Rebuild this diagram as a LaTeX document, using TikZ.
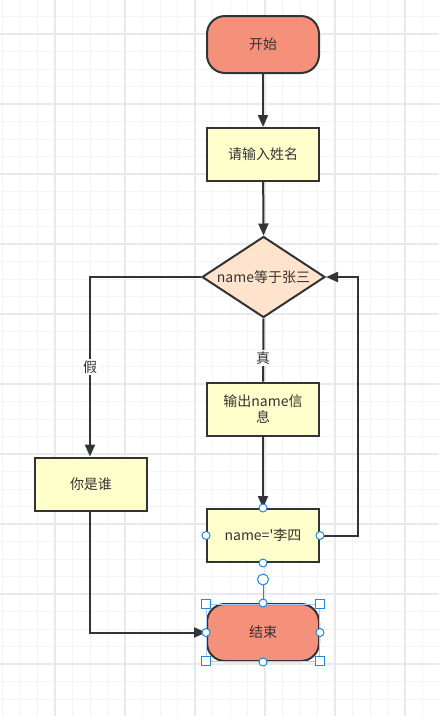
\documentclass[tikz,border=0pt]{standalone}
\usepackage{fontspec}
\setmainfont{Noto Sans CJK SC}
\usetikzlibrary{shapes.geometric,arrows.meta}
\definecolor{linec}{HTML}{333333}
\definecolor{salmon}{HTML}{F5907A}
\definecolor{lyellow}{HTML}{FFFFCC}
\definecolor{peach}{HTML}{FFE3CC}
\definecolor{gridminor}{HTML}{F4F4F4}
\definecolor{gridmajor}{HTML}{E9E9E9}
\definecolor{selblue}{HTML}{1E88E5}
\definecolor{sellight}{HTML}{A9CDF3}
\tikzset{
  base/.style={draw=linec, line width=2pt, text=linec, font=\fontsize{14}{16.5}\selectfont, inner sep=0pt, align=center},
  term/.style={base, rectangle, rounded corners=18pt, fill=salmon, minimum width=112pt, minimum height=57pt},
  proc/.style={base, rectangle, fill=lyellow, minimum width=112pt, minimum height=53pt},
  dec/.style={base, diamond, fill=peach, minimum width=123pt, minimum height=81pt, aspect=1.52},
  conn/.style={draw=linec, line width=2pt, -{Triangle[length=12pt,width=10pt]}},
  plain/.style={draw=linec, line width=2pt},
  elabel/.style={fill=white, text=linec, inner sep=1.5pt, font=\fontsize{14}{16.5}\selectfont},
  hcirc/.style={circle, draw=selblue, fill=white, line width=1pt, minimum size=8pt, inner sep=0pt},
  hsq/.style={rectangle, draw=selblue, fill=white, line width=1pt, minimum size=9pt, inner sep=0pt},
}
\begin{document}
\begin{tikzpicture}[x=1pt,y=-1pt]
\useasboundingbox (0,0) rectangle (439,716);
\fill[white] (0,0) rectangle (439,716);
% grid
\foreach \i in {0,...,25} {\draw[gridminor, line width=1pt] (2.5+17.5*\i,0) -- ++(0,716);}
\foreach \i in {0,...,41} {\draw[gridminor, line width=1pt] (0,-1+17.5*\i) -- ++(439,0);}
\foreach \i in {0,...,6} {\draw[gridmajor, line width=1.5pt] (55+70*\i,0) -- ++(0,716);}
\foreach \i in {0,...,10} {\draw[gridmajor, line width=1.5pt] (0,34+70*\i) -- ++(439,0);}

% nodes
\node[term] (start) at (263,44.5) {开始};
\node[proc] (input) at (263,154.5) {请输入姓名};
\node[dec] (cond) at (263.5,277) {name等于张三};
\node[proc] (out) at (263,409) {输出name信\\息};
\node[proc] (who) at (91,484) {你是谁};
\node[proc] (li) at (263,535.5) {name=\textquotesingle 李四};
\node[term] (end) at (263,632.5) {结束};

\coordinate (lc) at (90,277);
\coordinate (rc1) at (358,535.5);
\coordinate (rc2) at (358,277);
\coordinate (bc) at (90,632.5);

% connectors
\draw[conn] (start) -- (input);
\draw[conn] (input) -- (cond.north);
\draw[plain] (cond.south) -- node[elabel, pos=0.63] {真} (out.north);
\draw[conn] (cond.west) -- (lc) -- node[elabel, pos=0.5] {假} (who.north -| lc);
\draw[conn] (out) -- (li);
\draw[conn] (li.east) -- (rc1) -- (rc2) -- (cond.east);
\draw[conn] (who.south -| lc) -- (bc) -- (end.west);

% selection handles
\node[hcirc] (h1) at (li.north) {};
\node[hcirc] (h2) at (li.south) {};
\node[hcirc] (h3) at (li.west) {};
\node[hcirc] (h4) at (li.east) {};
\draw[sellight, line width=1pt] (206,604) rectangle (319.5,661);
\coordinate (rot) at (263,579.5);
\draw[selblue, line width=1pt] (rot) -- (end.north);
\node[hcirc, minimum size=11pt] (hr) at (rot) {};
\node[hsq] (s1) at (206,604) {};
\node[hsq] (s2) at (319.5,604) {};
\node[hsq] (s3) at (206,661) {};
\node[hsq] (s4) at (319.5,661) {};
\node[hcirc] (e1) at (end.north) {};
\node[hcirc] (e2) at (end.south) {};
\node[hcirc] (e3) at (end.west) {};
\node[hcirc] (e4) at (end.east) {};
\end{tikzpicture}
\end{document}
